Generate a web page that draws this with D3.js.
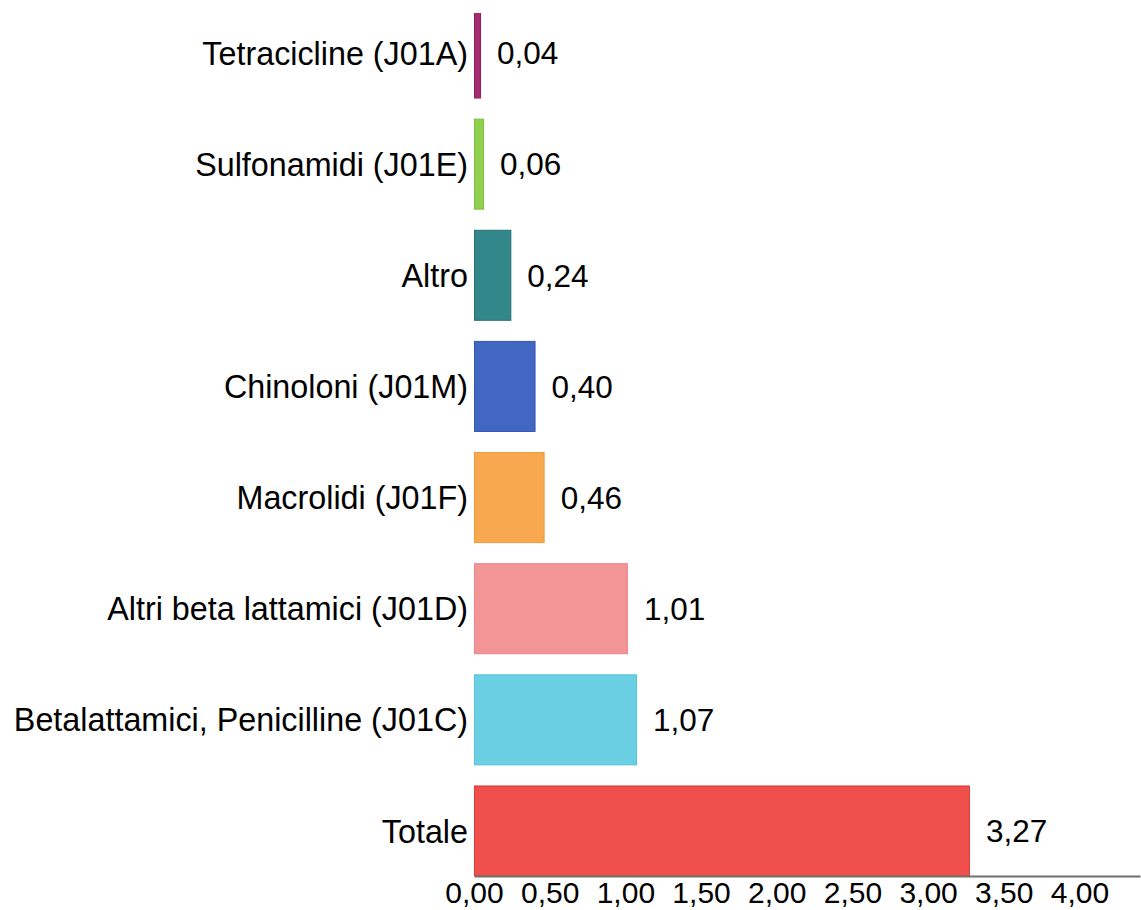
<!DOCTYPE html>
<html>
<head>
<meta charset="utf-8">
<script src="https://cdn.jsdelivr.net/npm/d3@7"></script>
<style>
  html, body { margin: 0; padding: 0; background: #fff; }
  text { font-family: "Liberation Sans", Arial, sans-serif; fill: #000; }
</style>
</head>
<body>
<svg width="1141" height="910"></svg>
<script>
// categories from top to bottom
const categories = [
  'Tetracicline (J01A)',
  'Sulfonamidi (J01E)',
  'Altro',
  'Chinoloni (J01M)',
  'Macrolidi (J01F)',
  'Altri beta lattamici (J01D)',
  'Betalattamici, Penicilline (J01C)',
  'Totale'
]
const values = [0.04, 0.06, 0.24, 0.40, 0.46, 1.01, 1.07, 3.27]
const colors = ['#a72b70', '#92d050', '#31878a', '#4267c3', '#f8a84e', '#f39597', '#6acfe2', '#f0504b']
const strokes = ['#8c1f5c', '#7fbf3c', '#246f72', '#3257b0', '#f09a38', '#ec8587', '#55c2d8', '#d83c38']
const tickValues = [0, 0.5, 1, 1.5, 2, 2.5, 3, 3.5, 4]

const it = d3.formatLocale({decimal: ',', thousands: '.', grouping: [3], currency: ['€', '']})
const fmt = it.format('.2f')

let svg = d3.select('svg')
let left = 474, right = 1140, bottom = 876

let x = d3.scaleLinear().domain([0, 4.4]).range([left, right])
let y = d3.scaleBand().domain(categories).range([8, bottom]).paddingInner(0.19).paddingOuter(0)

let data = categories.map(function(c, i) { return {cat: c, value: values[i], color: colors[i], stroke: strokes[i]} })

// plot area clip (top bar is cut by the frame)
svg.append('clipPath').attr('id', 'plot')
  .append('rect').attr('x', 0).attr('y', 13).attr('width', 1141).attr('height', bottom - 13)

let bars = svg.append('g').attr('clip-path', 'url(#plot)')
bars.selectAll('rect')
  .data(data)
  .enter()
  .append('rect')
    .attr('x', x(0) + 0.5)
    .attr('y', function(d) { return y(d.cat) })
    .attr('width', function(d) { return x(d.value) - x(0) })
    .attr('height', y.bandwidth())
    .attr('fill', function(d) { return d.color })
    .attr('stroke', function(d) { return d.stroke })
    .attr('stroke-width', 1)

// category labels
svg.append('g').selectAll('text')
  .data(data)
  .enter()
  .append('text')
    .attr('x', x(0) - 6)
    .attr('y', function(d) { return y(d.cat) + y.bandwidth() / 2 })
    .attr('dy', '0.36em')
    .attr('text-anchor', 'end')
    .style('font-size', '32.3px')
    .text(function(d) { return d.cat })

// value labels
svg.append('g').selectAll('text')
  .data(data)
  .enter()
  .append('text')
    .attr('x', function(d) { return x(d.value) + 17 })
    .attr('y', function(d) { return y(d.cat) + y.bandwidth() / 2 })
    .attr('dy', '0.36em')
    .style('font-size', '31.5px')
    .text(function(d) { return fmt(d.value) })

// x axis
let axis = svg.append('g')
  .attr('transform', 'translate(0,' + bottom + ')')
  .call(d3.axisBottom(x).tickValues(tickValues).tickSize(0).tickPadding(6).tickFormat(fmt))

axis.select('.domain').attr('stroke', '#6f6f6f').attr('stroke-width', 2)
axis.selectAll('text')
  .attr('dy', '0.71em')
  .style('font-size', '30px')
  .style('font-family', '"Liberation Sans", Arial, sans-serif')
  .attr('fill', '#000')
</script>
</body>
</html>
